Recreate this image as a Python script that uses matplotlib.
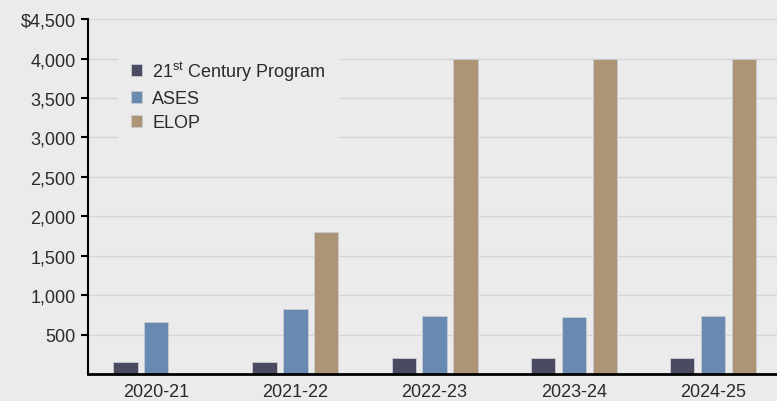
import numpy as np
import matplotlib.pyplot as plt
from matplotlib.ticker import FuncFormatter

plt.rcParams['font.family'] = ['Liberation Sans', 'DejaVu Sans']
plt.rcParams['mathtext.fontset'] = 'custom'
plt.rcParams['mathtext.rm'] = 'Liberation Sans'

years = ["2020-21", "2021-22", "2022-23", "2023-24", "2024-25"]
century21 = [155, 155, 205, 205, 205]
ases = [665, 830, 740, 727, 740]
elop = [0, 1800, 4000, 4000, 4000]
series_names = ["21$^{\\mathrm{st}}$ Century Program", "ASES", "ELOP"]
colors = ["#4a4a60", "#6889b0", "#ac9474"]
BG = "#ebebeb"
TXT = "#2a2a2a"

fig = plt.figure(figsize=(7.77, 4.02), dpi=100, facecolor=BG)
ax = fig.add_axes([0.1133, 0.067, 0.8867, 0.883], facecolor=BG)

x = np.arange(len(years))
w = 0.175
step = 0.222
for i, (vals, name, c) in enumerate(zip([century21, ases, elop], series_names, colors)):
    ax.bar(x + (i - 1) * step, vals, width=w, color=c, edgecolor="#c8ccd4",
           linewidth=0.6, label=name, zorder=3)

ax.set_xlim(-0.49, 4.46)
ax.set_ylim(0, 4500)
ax.set_yticks(np.arange(500, 4501, 500))
ax.yaxis.set_major_formatter(FuncFormatter(
    lambda v, p: f"${v:,.0f}" if v == 4500 else f"{v:,.0f}"))
ax.set_xticks(x)
ax.set_xticklabels(years)
ax.grid(axis="y", color="#d6d6d6", linewidth=1.0, zorder=0)
ax.tick_params(axis="y", length=5, width=1.5, labelsize=13, colors="black",
               labelcolor=TXT, pad=4)
ax.tick_params(axis="x", length=0, labelsize=13, labelcolor=TXT, pad=6.5)
for s in ["top", "right"]:
    ax.spines[s].set_visible(False)
ax.spines["left"].set_linewidth(1.5)
ax.spines["bottom"].set_linewidth(2)
ax.spines["left"].set_zorder(4)
ax.spines["bottom"].set_zorder(4)

leg = ax.legend(loc="upper left", bbox_to_anchor=(0.0435, 0.9225), frameon=True,
                facecolor=BG, edgecolor=BG, framealpha=1, fontsize=13,
                handlelength=0.65, handleheight=0.65, handletextpad=0.55,
                labelspacing=0.4, borderpad=0.7, borderaxespad=0)
for t in leg.get_texts():
    t.set_color(TXT)
leg.set_zorder(5)

fig.savefig("out.png", dpi=100, facecolor=BG)
